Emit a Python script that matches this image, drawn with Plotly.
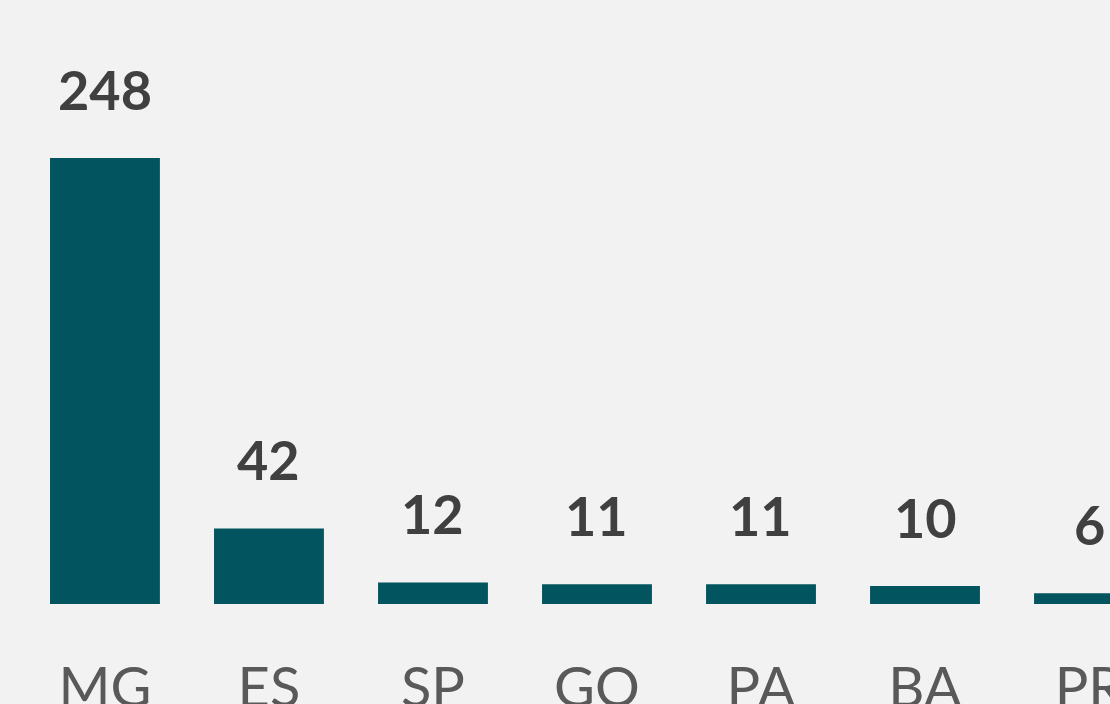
import plotly.graph_objects as go

categories = ["MG", "ES", "SP", "GO", "PA", "BA", "PR"]
values = [248, 42, 12, 11, 11, 10, 6]

BAR_COLOR = "#02555f"
BG = "#f2f2f2"

fig = go.Figure(go.Bar(
    x=categories, y=values,
    marker=dict(color=BAR_COLOR, line=dict(width=0)),
    hoverinfo="skip",
))

annotations = [
    dict(x=c, y=v, text=str(v), showarrow=False, yanchor="bottom", yshift=34,
         font=dict(family="Lato", size=54, color="#404040", weight="bold"))
    for c, v in zip(categories, values)
]

fig.update_layout(
    width=1110, height=704,
    margin=dict(l=0, r=0, t=0, b=100, autoexpand=False),
    paper_bgcolor=BG, plot_bgcolor=BG,
    bargap=0.33,
    showlegend=False,
    annotations=annotations,
    xaxis=dict(range=[-0.64, 6.128], showgrid=False, zeroline=False, showline=False,
               automargin=False,
               ticks="outside", ticklen=35, tickcolor="rgba(0,0,0,0)",
               tickfont=dict(family="Lato", size=56, color="#595959")),
    yaxis=dict(range=[0, 604 / 1.798], visible=False, automargin=False),
)

fig.write_html("out.html", config={"displayModeBar": False},
               post_script="document.body.style.margin='0';")
